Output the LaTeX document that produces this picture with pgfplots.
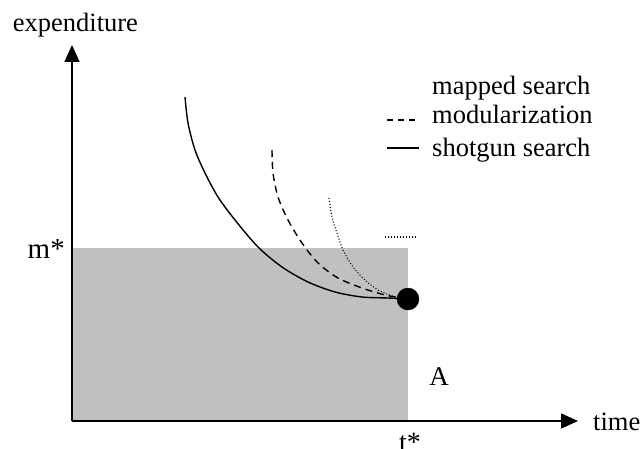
\documentclass[border=0pt]{standalone}
\usepackage{pgfplots}
\pgfplotsset{compat=1.18}
\usepackage{fontspec}
\setmainfont{Liberation Serif}
\usetikzlibrary{arrows.meta}
\definecolor{boxgray}{RGB}{192,192,192}
\newcommand{\lfont}{\fontsize{26.5}{30}\selectfont}
\begin{document}
\begin{tikzpicture}
\begin{axis}[
  width=640pt, height=448pt, scale only axis,
  xmin=0, xmax=640, ymin=0, ymax=448,
  axis lines=none, clip=false,
]
% shaded region
\addplot[fill=boxgray, draw=none] coordinates {(72,27) (408,27) (408,200) (72,200)} -- cycle;
% axes
\addplot[line width=1.6pt, -{Triangle[width=15pt,length=17pt]}] coordinates {(72,27) (72,403)};
\addplot[line width=1.6pt, -{Triangle[width=15pt,length=17pt]}] coordinates {(72,27) (578,27)};
% curves
\addplot[line width=1.4pt, smooth, tension=0.5] coordinates {(185,351) (188,325) (195,298) (205,275) (218,251) (235,228) (258,201) (282,181) (308,166) (335,156) (362,151) (388,150) (408,149)};
\addplot[line width=1.4pt, smooth, tension=0.5, dash pattern=on 7pt off 5pt] coordinates {(272,298) (273,275) (278,251) (288,228) (302,205) (318,185) (338,170) (362,160) (385,153) (402,150)};
\addplot[line width=1.1pt, smooth, tension=0.5, dash pattern=on 1pt off 2pt] coordinates {(329,250) (332,231) (337,215) (343,198) (353,181) (365,168) (378,158) (395,151) (405,150)};
% end point
\addplot[only marks, mark=*, mark size=11pt, black] coordinates {(408,149)};
% legend samples
\addplot[line width=1.4pt, dash pattern=on 6pt off 5pt] coordinates {(387,328) (419,328)};
\addplot[line width=1.4pt] coordinates {(387,300) (419,300)};
\addplot[line width=1.1pt, dash pattern=on 1pt off 2pt] coordinates {(385,211) (416,211)};
% labels
\node[anchor=base west, inner sep=0pt, font=\lfont] at (axis cs:432,353) {mapped search};
\node[anchor=base west, inner sep=0pt, font=\lfont] at (axis cs:432,324) {modularization};
\node[anchor=base west, inner sep=0pt, font=\lfont] at (axis cs:432,291) {shotgun search};
\node[anchor=base west, inner sep=0pt, font=\lfont] at (axis cs:12.7,416) {expenditure};
\node[anchor=base west, inner sep=0pt, font=\lfont] at (axis cs:593,18) {time};
\node[anchor=base east, inner sep=0pt, font=\fontsize{29}{32}\selectfont] at (axis cs:65,190) {m*};
\node[anchor=base, inner sep=0pt, font=\fontsize{28}{32}\selectfont] at (axis cs:410,-3) {t*};
\node[anchor=base, inner sep=0pt, font=\fontsize{27}{32}\selectfont] at (axis cs:439,63) {A};
\end{axis}
\pgfresetboundingbox
\path (0,0) rectangle (640pt,448pt);
\end{tikzpicture}
\end{document}
